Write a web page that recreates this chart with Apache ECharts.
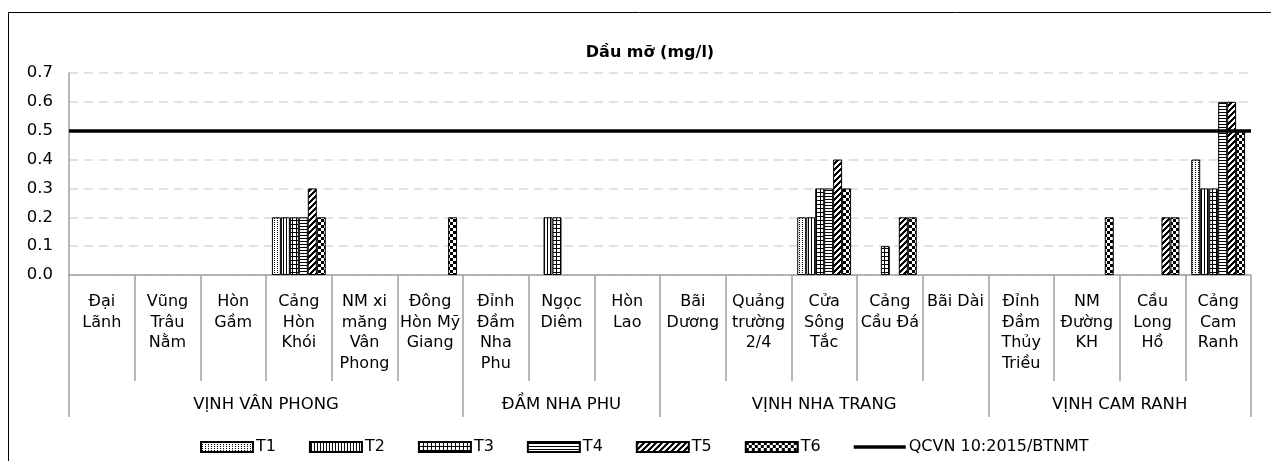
<!DOCTYPE html>
<html>
<head>
<meta charset="utf-8">
<script src="https://cdn.jsdelivr.net/npm/echarts@6/dist/echarts.min.js"></script>
<style>
html,body{margin:0;padding:0;background:#fff;}
#chart{width:1271px;height:461px;}
</style>
</head>
<body>
<div id="chart"></div>
<script>
// ---- data ----
const categories = [
  "Đại\nLãnh", "Vũng\nTrâu\nNằm", "Hòn\nGầm", "Cảng\nHòn\nKhói", "NM xi\nmăng\nVân\nPhong", "Đông\nHòn Mỹ\nGiang",
  "Đỉnh\nĐầm\nNha\nPhu", "Ngọc\nDiêm", "Hòn\nLao",
  "Bãi\nDương", "Quảng\ntrường\n2/4", "Cửa\nSông\nTắc", "Cảng\nCầu Đá", "Bãi Dài",
  "Đỉnh\nĐầm\nThủy\nTriều", "NM\nĐường\nKH", "Cầu\nLong\nHồ", "Cảng\nCam\nRanh"
];
const groupNames = ["VỊNH VÂN PHONG", "ĐẦM NHA PHU", "VỊNH NHA TRANG", "VỊNH CAM RANH"];
const groupSizes = [6, 3, 5, 4];
const seriesNames = ["T1", "T2", "T3", "T4", "T5", "T6"];
const T1 = [0,0,0,0.2,0,0,  0,0,0,    0,0,0.2,0,0,    0,0,0,0.4];
const T2 = [0,0,0,0.2,0,0,  0,0.2,0,  0,0,0.2,0,0,    0,0,0,0.3];
const T3 = [0,0,0,0.2,0,0,  0,0.2,0,  0,0,0.3,0.1,0,  0,0,0,0.3];
const T4 = [0,0,0,0.2,0,0,  0,0,0,    0,0,0.3,0,0,    0,0,0,0.6];
const T5 = [0,0,0,0.3,0,0,  0,0,0,    0,0,0.4,0.2,0,  0,0,0.2,0.6];
const T6 = [0,0,0,0.2,0,0.2,0,0,0,    0,0,0.3,0.2,0,  0,0.2,0.2,0.5];
const qcvnName = "QCVN 10:2015/BTNMT";
const qcvnLimit = 0.5;
const yTicks = [0, 0.1, 0.2, 0.3, 0.4, 0.5, 0.6, 0.7];

// ---- patterns ----
function pattern(w, h, isBlack) {
  const c = document.createElement('canvas');
  c.width = w; c.height = h;
  const g = c.getContext('2d');
  g.fillStyle = '#fff'; g.fillRect(0, 0, w, h);
  g.fillStyle = '#000';
  for (let x = 0; x < w; x++) for (let y = 0; y < h; y++) if (isBlack(x, y)) g.fillRect(x, y, 1, 1);
  return { image: c, repeat: 'repeat' };
}
const patterns = [
  pattern(3, 2, (x, y) => x === 1 && y === 0),
  pattern(3, 1, (x) => x === 1),
  pattern(4, 4, (x, y) => x === 0 || y === 0),
  pattern(1, 3, (x, y) => y === 1),
  pattern(6, 6, (x, y) => ((x + y) % 6) < 3),
  pattern(6, 6, (x, y) => ((Math.floor(x / 3) + Math.floor(y / 3)) % 2) === 0)
];

const seriesData = [T1, T2, T3, T4, T5, T6];
const FONT = 'DejaVu Sans';
const AXIS_GRAY = '#a0a0a0';

// group boundaries / centers derived from group sizes
const bounds = [0];
groupSizes.forEach(s => bounds.push(bounds[bounds.length - 1] + s));
const centers = groupSizes.map((s, i) => bounds[i] + s / 2);

const series = seriesNames.map((name, i) => ({
  name, type: 'bar', xAxisIndex: 0, yAxisIndex: 0,
  barGap: '0%', barCategoryGap: '18%',
  itemStyle: { color: patterns[i], borderColor: '#000', borderWidth: 1 },
  data: seriesData[i].map(v => v === 0 ? null : v),
  z: 2
}));
series.push({
  name: qcvnName, type: 'line', xAxisIndex: 0, yAxisIndex: 0,
  symbol: 'none', showSymbol: false, data: [],
  itemStyle: { color: '#000' },
  lineStyle: { color: '#000', width: 3.5 },
  z: 5,
  markLine: {
    silent: true, symbol: 'none', animation: false,
    label: { show: false },
    lineStyle: { color: '#000', width: 3.5, type: 'solid' },
    data: [{ yAxis: qcvnLimit }]
  }
});

const legendData = seriesNames.map(n => ({ name: n, icon: 'rect' }));
legendData.push({ name: qcvnName, icon: 'path://M0,0 L52,0 L52,3.5 L0,3.5 Z' });

const chart = echarts.init(document.getElementById('chart'), null, { renderer: 'canvas' });
chart.setOption({
  animation: false,
  backgroundColor: '#fff',
  textStyle: { fontFamily: FONT, color: '#000' },
  title: {
    text: 'Dầu mỡ (mg/l)', left: 645, top: 40, textAlign: 'center',
    textStyle: { fontFamily: FONT, fontSize: 16, fontWeight: 'bold', color: '#000' }
  },
  graphic: [{
    type: 'polyline', silent: true,
    shape: { points: [[8.5, 461], [8.5, 12.5], [1271, 12.5]] },
    style: { stroke: '#000', lineWidth: 1, fill: null }
  }],
  legend: {
    left: 195, top: 434, itemWidth: 52, itemHeight: 10, itemGap: 33,
    symbolKeepAspect: true,
    textStyle: { fontFamily: FONT, fontSize: 16, color: '#000', padding: [0, 0, 0, -2] },
    data: legendData
  },
  grid: { left: 69, right: 20, top: 73, bottom: 186, containLabel: false },
  xAxis: [{
    type: 'category', data: categories, position: 'bottom',
    axisLine: { show: true, lineStyle: { color: AXIS_GRAY, width: 1.5 } },
    axisTick: { show: true, interval: 0, length: 106, lineStyle: { color: AXIS_GRAY, width: 1.5 } },
    axisLabel: { interval: 0, margin: 17, fontFamily: FONT, fontSize: 16, lineHeight: 20.5, color: '#000', align: 'center', verticalAlign: 'top' },
    splitLine: { show: false }
  }, {
    type: 'value', min: 0, max: categories.length, position: 'bottom',
    axisLine: { show: false },
    axisTick: { show: true, customValues: bounds, length: 142, lineStyle: { color: AXIS_GRAY, width: 1.5 } },
    axisLabel: {
      customValues: centers, margin: 121, fontFamily: FONT, fontSize: 16.5, color: '#000',
      formatter: v => { const k = centers.findIndex(c => Math.abs(c - v) < 1e-6); return k >= 0 ? groupNames[k] : ''; }
    },
    splitLine: { show: false }
  }],
  yAxis: {
    type: 'value', min: yTicks[0], max: yTicks[yTicks.length - 1], interval: 0.1,
    axisLine: { show: true, lineStyle: { color: AXIS_GRAY, width: 1.5 } },
    axisTick: { show: false },
    axisLabel: { margin: 16, fontFamily: FONT, fontSize: 16.5, color: '#000', formatter: v => v.toFixed(1) },
    splitLine: { show: true, lineStyle: { color: '#d9d9d9', width: 1.5, type: [9, 6] } }
  },
  series
});
</script>
</body>
</html>
